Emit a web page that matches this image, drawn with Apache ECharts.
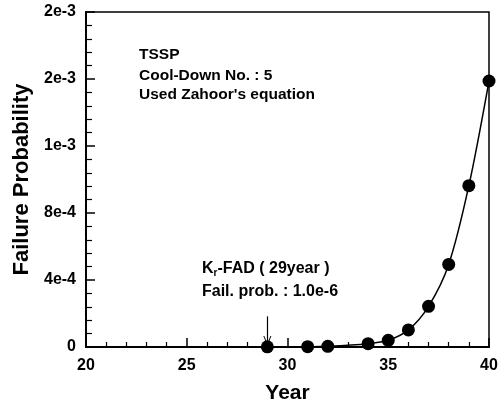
<!DOCTYPE html>
<html><head><meta charset="utf-8">
<script src="https://cdn.jsdelivr.net/npm/echarts@6/dist/echarts.min.js"></script>
<style>html,body{margin:0;padding:0;background:#fff}#c{width:503px;height:409px}</style>
</head><body><div id="c"></div>
<script>
const years = [29, 31, 32, 34, 35, 36, 37, 38, 39, 40];
const failProb = [0.000001, 0.000002, 0.000004, 0.00002, 0.00004, 0.000102, 0.000243, 0.000493, 0.000963, 0.001588];
const yTickLabels = ['0', '4e-4', '8e-4', '1e-3', '2e-3', '2e-3'];
const noteLines = ['TSSP', 'Cool-Down No. : 5', "Used Zahoor's equation"];
const fadYear = 29;
const fadLabel = '( 29year )';
const fadProbText = 'Fail. prob. : 1.0e-6';
const arrowFrom = 0.000183;
const arrowTo = 0.000036;

const FONT = '"Liberation Sans", Arial, Helvetica, sans-serif';
const chart = echarts.init(document.getElementById('c'), null, {renderer: 'canvas'});

const noteTops = [56, 77, 96];
const graphics = noteLines.map((t, i) => ({
  type: 'text', left: 139, top: noteTops[i] - 9,
  style: {text: t, font: 'bold 15.5px ' + FONT, fill: '#000'}
}));
graphics.push({
  type: 'text', left: 202, top: 261,
  style: {
    text: 'K{sub|r}-FAD ' + fadLabel,
    font: 'bold 16px ' + FONT, fill: '#000',
    rich: {sub: {fontSize: 10, fontWeight: 'bold', fontFamily: FONT, verticalAlign: 'bottom', padding: [8, 0, 0, 0]}}
  }
});
graphics.push({
  type: 'text', left: 202, top: 284,
  style: {text: fadProbText, font: 'bold 16px ' + FONT, fill: '#000'}
});

chart.setOption({
  animation: false,
  backgroundColor: '#fff',
  grid: {left: 86, right: 14, top: 12, bottom: 59, show: true, borderColor: '#000', borderWidth: 1.5},
  xAxis: {
    type: 'value', min: 20, max: 40, interval: 5,
    name: 'Year', nameLocation: 'middle', nameGap: 36,
    nameTextStyle: {fontSize: 21, fontWeight: 'bold', fontFamily: FONT, color: '#000'},
    axisLine: {lineStyle: {color: '#000', width: 2}},
    axisTick: {inside: true, length: 9, lineStyle: {color: '#000', width: 1.5}},
    minorTick: {show: true, splitNumber: 5, length: 5, lineStyle: {color: '#000', width: 1.2}},
    splitLine: {show: false},
    axisLabel: {fontSize: 16, fontWeight: 'bold', fontFamily: FONT, color: '#000', margin: 11}
  },
  yAxis: {
    type: 'value', min: 0, max: 0.002, interval: 0.0004,
    name: 'Failure Probability', nameLocation: 'middle', nameGap: 52,
    nameTextStyle: {fontSize: 22, fontWeight: 'bold', fontFamily: FONT, color: '#000'},
    axisLine: {lineStyle: {color: '#000', width: 2}},
    axisTick: {inside: true, length: 9, lineStyle: {color: '#000', width: 1.5}},
    minorTick: {show: true, splitNumber: 5, length: 6, lineStyle: {color: '#000', width: 1.2}},
    splitLine: {show: false},
    axisLabel: {
      fontSize: 16, fontWeight: 'bold', fontFamily: FONT, color: '#000', margin: 10,
      formatter: v => yTickLabels[Math.round(v / 0.0004)]
    }
  },
  graphic: graphics,
  series: [{
    type: 'line',
    data: years.map((x, i) => [x, failProb[i]]),
    smooth: 0.3,
    symbol: 'circle', symbolSize: 13,
    clip: false,
    itemStyle: {color: '#000'},
    lineStyle: {color: '#000', width: 1.5},
    markLine: {
      silent: true,
      symbol: ['none', 'path://M0,10 L5,0 L10,10 L8.8,10 L5,2.5 L1.2,10 Z'],
      symbolSize: [8, 10],
      label: {show: false},
      lineStyle: {color: '#000', width: 1.2, type: 'solid'},
      data: [[{coord: [fadYear, arrowFrom]}, {coord: [fadYear, arrowTo]}]]
    }
  }]
});
</script>
</body></html>
